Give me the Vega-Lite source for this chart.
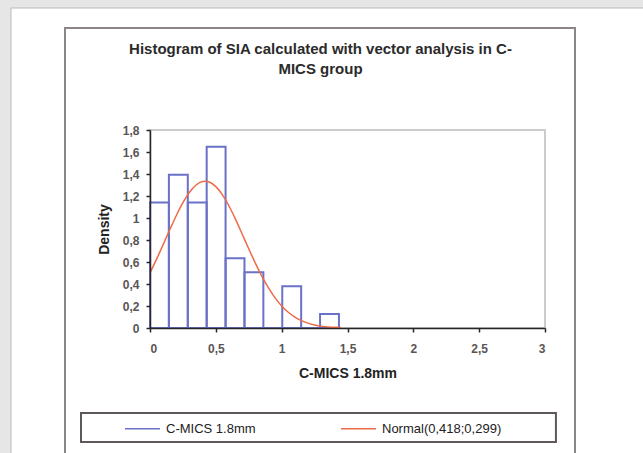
{
  "$schema": "https://vega.github.io/schema/vega-lite/v6.json",
  "autosize": {"type": "none"},
  "width": 395,
  "height": 198,
  "padding": {"left": 150, "top": 130, "right": 98, "bottom": 125},
  "background": "#e6e6e6",
  "title": {
    "text": ["Histogram of SIA calculated with vector analysis in C-", "MICS group"],
    "font": "Liberation Sans",
    "fontSize": 15,
    "fontWeight": "bold",
    "color": "#2b2b2b",
    "lineHeight": 20,
    "anchor": "middle",
    "frame": "group",
    "dx": -27,
    "offset": -69
  },
  "config": {
    "font": "Liberation Sans",
    "view": {"stroke": null}
  },
  "datasets": {
    "bins": [
      {"lo": 0.0, "hi": 0.1435, "density": 1.140},
      {"lo": 0.1435, "hi": 0.287, "density": 1.394},
      {"lo": 0.287, "hi": 0.4305, "density": 1.140},
      {"lo": 0.4305, "hi": 0.574, "density": 1.647},
      {"lo": 0.574, "hi": 0.7175, "density": 0.634},
      {"lo": 0.7175, "hi": 0.861, "density": 0.507},
      {"lo": 0.861, "hi": 1.0045, "density": 0.0},
      {"lo": 1.0045, "hi": 1.148, "density": 0.380},
      {"lo": 1.148, "hi": 1.2915, "density": 0.0},
      {"lo": 1.2915, "hi": 1.435, "density": 0.127}
    ],
    "normal": [
      {"x": 0.0, "density": 0.502},
      {"x": 0.05, "density": 0.626},
      {"x": 0.1, "density": 0.758},
      {"x": 0.15, "density": 0.893},
      {"x": 0.2, "density": 1.023},
      {"x": 0.25, "density": 1.139},
      {"x": 0.3, "density": 1.234},
      {"x": 0.35, "density": 1.300},
      {"x": 0.4, "density": 1.332},
      {"x": 0.418, "density": 1.334},
      {"x": 0.45, "density": 1.327},
      {"x": 0.5, "density": 1.285},
      {"x": 0.55, "density": 1.210},
      {"x": 0.6, "density": 1.109},
      {"x": 0.65, "density": 0.988},
      {"x": 0.7, "density": 0.855},
      {"x": 0.75, "density": 0.720},
      {"x": 0.8, "density": 0.590},
      {"x": 0.85, "density": 0.470},
      {"x": 0.9, "density": 0.364},
      {"x": 0.95, "density": 0.274},
      {"x": 1.0, "density": 0.201},
      {"x": 1.05, "density": 0.143},
      {"x": 1.1, "density": 0.099},
      {"x": 1.15, "density": 0.067},
      {"x": 1.2, "density": 0.044},
      {"x": 1.25, "density": 0.028},
      {"x": 1.3, "density": 0.017},
      {"x": 1.35, "density": 0.010},
      {"x": 1.4, "density": 0.006},
      {"x": 1.45, "density": 0.004}
    ]
  },
  "encoding": {
    "x": {
      "type": "quantitative",
      "scale": {"domain": [0, 3], "nice": false, "zero": false},
      "axis": {
        "zindex": 2,
        "grid": false,
        "values": [0, 0.5, 1, 1.5, 2, 2.5, 3],
        "labelExpr": "replace(format(datum.value, '~g'), '.', ',')",
        "domainColor": "#262626",
        "domainWidth": 1.5,
        "tickColor": "#262626",
        "tickWidth": 1.5,
        "tickSize": 4,
        "labelFont": "Liberation Sans",
        "labelFontSize": 12,
        "labelFontWeight": "bold",
        "labelColor": "#5a5555",
        "labelPadding": 11,
        "title": "C-MICS 1.8mm",
        "titleFont": "Liberation Sans",
        "titleFontSize": 14,
        "titleFontWeight": "bold",
        "titleColor": "#222222",
        "titlePadding": 12
      }
    },
    "y": {
      "type": "quantitative",
      "scale": {"domain": [0, 1.8], "nice": false, "zero": false},
      "axis": {
        "zindex": 2,
        "grid": false,
        "values": [0, 0.2, 0.4, 0.6, 0.8, 1, 1.2, 1.4, 1.6, 1.8],
        "labelExpr": "replace(format(datum.value, '~g'), '.', ',')",
        "domainColor": "#262626",
        "domainWidth": 1.5,
        "tickColor": "#262626",
        "tickWidth": 1.5,
        "tickSize": 4,
        "labelFont": "Liberation Sans",
        "labelFontSize": 12,
        "labelFontWeight": "bold",
        "labelColor": "#5a5555",
        "labelPadding": 7,
        "title": "Density",
        "titleFont": "Liberation Sans",
        "titleFontSize": 14,
        "titleFontWeight": "bold",
        "titleColor": "#222222",
        "titlePadding": 11
      }
    }
  },
  "layer": [
    {
      "data": {"values": [{}]},
      "mark": {"type": "rect", "fill": "#ffffff", "stroke": "#b9b9b9", "strokeWidth": 1},
      "encoding": {
        "x": {"datum": -1.0557},
        "x2": {"datum": 3.95},
        "y": {"datum": 2.909},
        "y2": {"datum": -1.5}
      }
    },
    {
      "data": {"values": [{}]},
      "mark": {"type": "rect", "fill": null, "stroke": "#8c8585", "strokeWidth": 2},
      "encoding": {
        "x": {"datum": -0.6456},
        "x2": {"datum": 3.2278},
        "y": {"datum": 2.727},
        "y2": {"datum": -1.5}
      }
    },
    {
      "data": {"values": [{}]},
      "mark": {"type": "rect", "fill": null, "stroke": "#5e5858", "strokeWidth": 2},
      "encoding": {
        "x": {"datum": -0.524},
        "x2": {"datum": 3.083},
        "y": {"datum": -0.7727},
        "y2": {"datum": -1.0364}
      }
    },
    {
      "data": {"values": [{}]},
      "mark": {"type": "rect", "fill": null, "stroke": "#cccccc", "strokeWidth": 2},
      "encoding": {
        "x": {"datum": 0},
        "x2": {"datum": 3},
        "y": {"datum": 0},
        "y2": {"datum": 1.8}
      }
    },
    {
      "data": {"name": "bins"},
      "mark": {"type": "rect", "filled": false, "strokeWidth": 2},
      "encoding": {
        "x": {"field": "lo"},
        "x2": {"field": "hi"},
        "y": {"field": "density"},
        "y2": {"datum": 0},
        "stroke": {
          "datum": "C-MICS 1.8mm",
          "type": "nominal",
          "scale": {
            "domain": ["C-MICS 1.8mm", "Normal(0,418;0,299)"],
            "range": ["#6a72c8", "#ee6a48"]
          },
          "legend": {
            "title": null,
            "orient": "none",
            "legendX": -26,
            "legendY": 280,
            "direction": "horizontal",
            "columns": 2,
            "columnPadding": 82,
            "padding": 0,
            "symbolType": "stroke",
            "symbolSize": 1225,
            "symbolStrokeWidth": 1.5,
            "labelOffset": 5,
            "labelFont": "Liberation Sans",
            "labelFontSize": 13,
            "labelColor": "#222222",
            "labelLimit": 300,
            "zindex": 2
          }
        }
      }
    },
    {
      "data": {"name": "normal"},
      "mark": {"type": "line", "strokeWidth": 1.5, "interpolate": "monotone"},
      "encoding": {
        "x": {"field": "x"},
        "y": {"field": "density"},
        "stroke": {"datum": "Normal(0,418;0,299)", "type": "nominal"}
      }
    }
  ]
}
